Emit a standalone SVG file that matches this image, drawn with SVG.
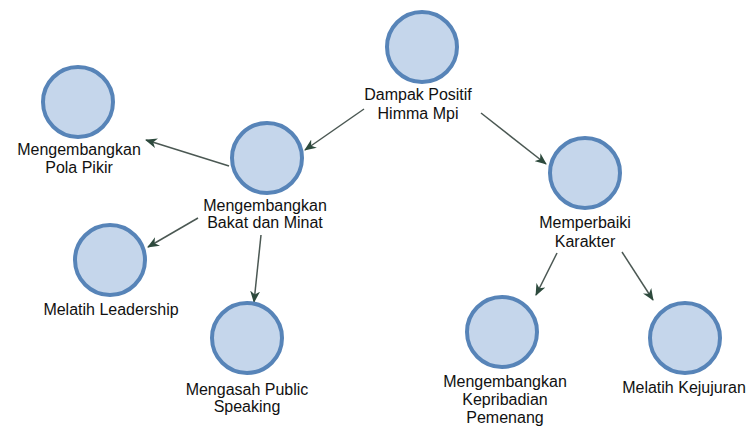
<svg xmlns="http://www.w3.org/2000/svg" width="751" height="427" viewBox="0 0 751 427">
<defs>
<style>
.n circle{fill:#c5d6eb;stroke:#5784b8;stroke-width:4}
.n text{font-family:"Liberation Sans",Arial,sans-serif;font-size:16px;fill:#111;text-anchor:middle}
.e line{stroke:#4b5853;stroke-width:1.5;marker-end:url(#ah)}
</style>
<marker id="ah" viewBox="0 0 12 10" refX="11" refY="5" markerWidth="12" markerHeight="10" markerUnits="userSpaceOnUse" orient="auto">
<path d="M0,0 L12,5 L0,10 L3.5,5 z" fill="#2d4a3d"/>
</marker>
</defs>
<rect width="751" height="427" fill="#fff"/>
<g id="edges" class="e">
<line x1="364" y1="109" x2="305" y2="150"/>
<line x1="481" y1="113" x2="546" y2="164"/>
<line x1="229" y1="166" x2="146" y2="140"/>
<line x1="198" y1="218" x2="148" y2="247"/>
<line x1="261" y1="235" x2="254" y2="302"/>
<line x1="557" y1="253" x2="536" y2="295"/>
<line x1="622" y1="252" x2="653" y2="300"/>
</g>
<g id="n1" class="n"><circle cx="422" cy="47" r="35"/><text x="418" y="100">Dampak Positif</text><text x="418" y="119">Himma Mpi</text></g>
<g id="n2" class="n"><circle cx="78" cy="102" r="35"/><text x="79" y="155">Mengembangkan</text><text x="79" y="173">Pola Pikir</text></g>
<g id="n3" class="n"><circle cx="267" cy="158" r="35"/><text x="265" y="211">Mengembangkan</text><text x="265" y="228">Bakat dan Minat</text></g>
<g id="n4" class="n"><circle cx="110" cy="260" r="35"/><text x="111" y="315">Melatih Leadership</text></g>
<g id="n5" class="n"><circle cx="247" cy="338" r="35"/><text x="247" y="395">Mengasah Public</text><text x="247" y="412">Speaking</text></g>
<g id="n6" class="n"><circle cx="585" cy="173" r="35"/><text x="585" y="228">Memperbaiki</text><text x="585" y="247">Karakter</text></g>
<g id="n7" class="n"><circle cx="502" cy="332" r="35"/><text x="505" y="387">Mengembangkan</text><text x="505" y="405">Kepribadian</text><text x="505" y="423">Pemenang</text></g>
<g id="n8" class="n"><circle cx="685" cy="338" r="35"/><text x="684" y="393">Melatih Kejujuran</text></g>
</svg>
